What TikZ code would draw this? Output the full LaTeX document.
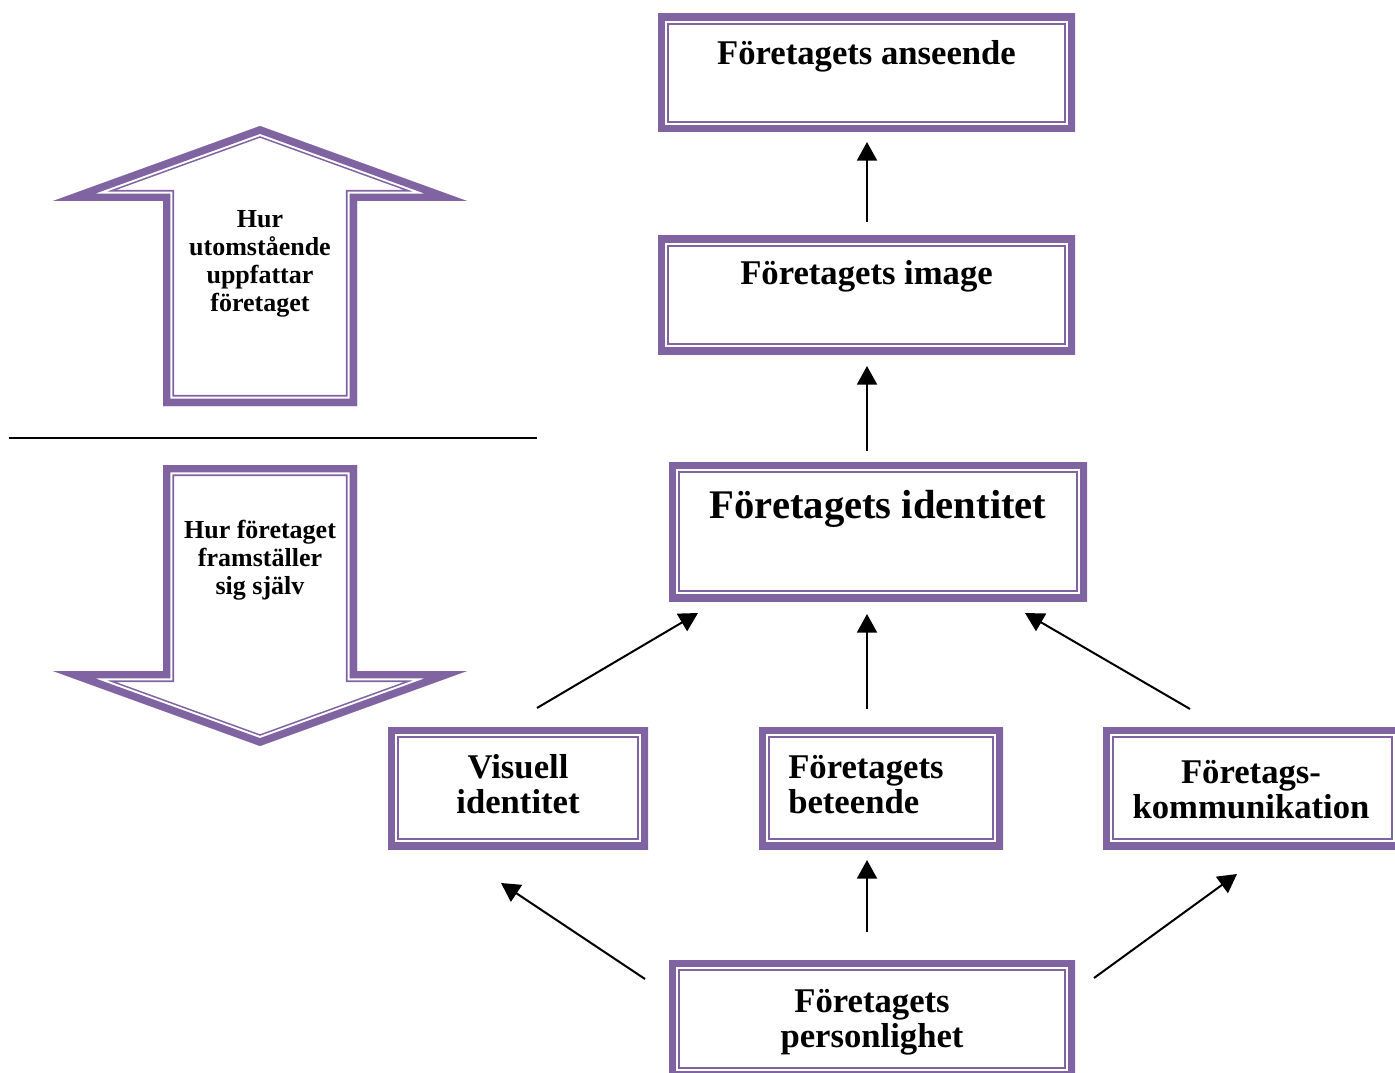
\documentclass[tikz,border=0pt]{standalone}
\usepackage{fontspec}
\setmainfont{Liberation Serif}
\usetikzlibrary{arrows.meta}
\definecolor{purp}{HTML}{8064A2}
\begin{document}
\begin{tikzpicture}[x=0.75pt,y=-0.75pt,
  pbox/.style n args={2}{rectangle, inner sep=0pt, fill=white,
    minimum width=#1*0.75pt, minimum height=#2*0.75pt,
    path picture={
      \draw[purp,line width=11.2pt] (path picture bounding box.south west) rectangle (path picture bounding box.north east);
      \draw[purp,line width=1.2pt] ([shift={(7.6pt,7.6pt)}]path picture bounding box.south west) rectangle ([shift={(-7.6pt,-7.6pt)}]path picture bounding box.north east);
    }},
  btxt/.style={inner sep=0pt, font=\bfseries\fontsize{26}{26.25}\selectfont},
  bigtxt/.style={inner sep=0pt, font=\bfseries\fontsize{30.5}{32}\selectfont},
  atxt/.style={inner sep=0pt, font=\bfseries\fontsize{19.5}{21}\selectfont},
  arr/.style={line width=1.5pt, -{Triangle[length=14pt,width=15pt]}},
  band1/.style={purp, line width=16.6pt},
  band2/.style={white, line width=14.2pt},
  band3/.style={purp, line width=11.2pt}
]
\useasboundingbox (0,0) rectangle (1395,1073);

% boxes
\node[pbox={417}{118}] (b1) at (866.5,73) {};
\node[pbox={417}{118}] (b2) at (866.5,295) {};
\node[pbox={418}{139}] (b3) at (878,531.5) {};
\node[pbox={260}{122}] (b4) at (518,788) {};
\node[pbox={244}{122}] (b5) at (881,788) {};
\node[pbox={299}{122}] (b6) at (1252.5,788) {};
\node[pbox={406}{118}] (b7) at (872,1019) {};

% texts
\node[btxt, anchor=base] (t1) at (866.5,65) {Företagets anseende};
\node[btxt, anchor=base] (t2) at (866.5,285) {Företagets image};
\node[bigtxt, anchor=base] (t3) at (878,518) {Företagets identitet};
\node[btxt, anchor=base] (t4) at (518,778) {\begin{tabular}[t]{@{}c@{}}Visuell\\identitet\end{tabular}};
\node[btxt, anchor=base west] (t5) at (788,778) {\begin{tabular}[t]{@{}l@{}}Företagets\\beteende\end{tabular}};
\node[btxt, anchor=base] (t6) at (1251,783) {\begin{tabular}[t]{@{}c@{}}Företags-\\kommunikation\end{tabular}};
\node[btxt, anchor=base] (t7) at (872,1012) {\begin{tabular}[t]{@{}c@{}}Företagets\\personlighet\end{tabular}};

% connector end points
\coordinate (a1s) at (867,222);  \coordinate (a1e) at (867,142);
\coordinate (a2s) at (867,451);  \coordinate (a2e) at (867,366);
\coordinate (a3s) at (537,708);  \coordinate (a3e) at (698,613);
\coordinate (a4s) at (867,709);  \coordinate (a4e) at (867,614);
\coordinate (a5s) at (1190,709); \coordinate (a5e) at (1025,613);
\coordinate (a6s) at (645,979);  \coordinate (a6e) at (501,883);
\coordinate (a7s) at (867,932);  \coordinate (a7e) at (867,860);
\coordinate (a8s) at (1094,978); \coordinate (a8e) at (1237,874);

\draw[arr] (a1s) -- (a1e);
\draw[arr] (a2s) -- (a2e);
\draw[arr] (a3s) -- (a3e);
\draw[arr] (a4s) -- (a4e);
\draw[arr] (a5s) -- (a5e);
\draw[arr] (a6s) -- (a6e);
\draw[arr] (a7s) -- (a7e);
\draw[arr] (a8s) -- (a8e);

% separator line
\coordinate (l1) at (9,438); \coordinate (l2) at (537,438);
\draw[line width=1.9pt] (l1) -- (l2);

% up block arrow
\def\uparr{(260,126) -- (467,201) -- (357,201) -- (357,406) -- (163,406) -- (163,201) -- (53,201) -- cycle}
\begin{scope}
  \clip \uparr;
  \draw[band1] \uparr;
  \draw[band2] \uparr;
  \draw[band3] \uparr;
\end{scope}
\node[atxt, anchor=base] (u1) at (260,228) {\begin{tabular}[t]{@{}c@{}}Hur\\utomstående\\uppfattar\\företaget\end{tabular}};

% down block arrow
\def\dnarr{(163,465) -- (357,465) -- (357,671) -- (467,671) -- (260,746) -- (53,671) -- (163,671) -- cycle}
\begin{scope}
  \clip \dnarr;
  \draw[band1] \dnarr;
  \draw[band2] \dnarr;
  \draw[band3] \dnarr;
\end{scope}
\node[atxt, anchor=base] (d1) at (260,538) {\begin{tabular}[t]{@{}c@{}}Hur företaget\\framställer\\sig själv\end{tabular}};
\end{tikzpicture}
\end{document}
